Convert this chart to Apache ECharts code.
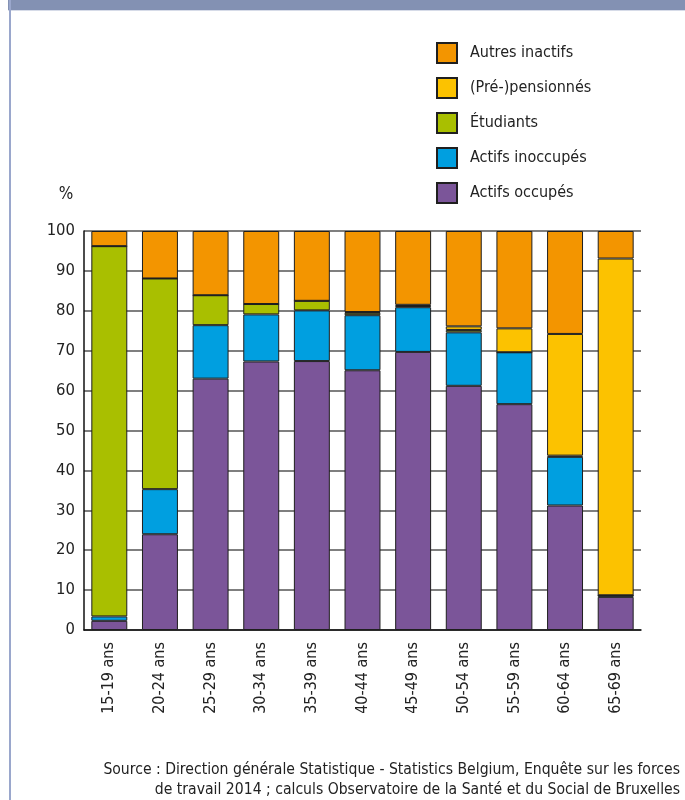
<!DOCTYPE html>
<html><head><meta charset="utf-8">
<script src="https://cdn.jsdelivr.net/npm/echarts@6/dist/echarts.min.js"></script>
<style>html,body{margin:0;padding:0;background:#fff}#c{width:685px;height:800px}</style>
</head><body><div id="c"></div>
<script>
const categories = ['15-19 ans','20-24 ans','25-29 ans','30-34 ans','35-39 ans','40-44 ans','45-49 ans','50-54 ans','55-59 ans','60-64 ans','65-69 ans'];
const actifsOccupes   = [2.3, 24.0, 63.0, 67.3, 67.4, 65.1, 69.7, 61.2, 56.6, 31.2, 8.3];
const actifsInoccupes = [1.1, 11.3, 13.4, 11.8, 12.7, 13.8, 11.2, 13.4, 13.0, 12.2, 0.4];
const etudiants       = [92.8, 52.8, 7.5, 2.6, 2.4, 0.6, 0.3, 0.6, 0, 0.3, 0];
const pensionnes      = [0, 0, 0, 0, 0, 0.2, 0.3, 0.9, 6.0, 30.5, 84.4];
const autresInactifs  = [3.8, 11.9, 16.1, 18.3, 17.5, 20.3, 18.5, 23.9, 24.4, 25.8, 6.9];
const yTicks = [0,10,20,30,40,50,60,70,80,90,100];
const sourceLines = ['Source : Direction générale Statistique - Statistics Belgium, Enquête sur les forces','de travail 2014 ; calculs Observatoire de la Santé et du Social de Bruxelles'];

const FONT = '"Liberation Sans Narrow","DejaVu Sans Condensed","Roboto Condensed","Noto Sans",sans-serif';
const chart = echarts.init(document.getElementById('c'), null, {renderer:'canvas'});
function s(name, data, color){
  return {name, type:'bar', stack:'t', data, barCategoryGap:'29%',
    itemStyle:{color, borderColor:'#1f1f1f', borderWidth:1}, emphasis:{disabled:true}};
}
chart.setOption({
  animation:false,
  textStyle:{fontFamily:FONT},
  grid:{left:84, right:44, top:231, bottom:170},
  legend:{orient:'vertical', left:436, top:42, itemWidth:20, itemHeight:20, itemGap:13,
    padding:0, icon:'rect', selectedMode:false,
    data:['Autres inactifs','(Pré-)pensionnés','Étudiants','Actifs inoccupés','Actifs occupés'],
    textStyle:{fontFamily:FONT, fontSize:16, color:'#222', padding:[0,0,0,8]}},
  xAxis:{type:'category', data:categories,
    axisLine:{lineStyle:{color:'#111', width:1.5}}, axisTick:{show:false},
    axisLabel:{rotate:90, margin:12, fontFamily:FONT, fontSize:16, color:'#222', interval:0}},
  yAxis:{type:'value', min:0, max:100, interval:10,
    axisLine:{show:true, lineStyle:{color:'#111', width:1.5}}, axisTick:{show:false},
    axisLabel:{margin:9, fontFamily:FONT, fontSize:16.5, color:'#222',
      formatter:v=>yTicks.includes(v)?String(v):''},
    splitLine:{lineStyle:{color:'#555', width:1.5}}},
  series:[
    s('Actifs occupés', actifsOccupes, '#7b5599'),
    s('Actifs inoccupés', actifsInoccupes, '#009fe0'),
    s('Étudiants', etudiants, '#a9bf00'),
    s('(Pré-)pensionnés', pensionnes, '#fcc200'),
    s('Autres inactifs', autresInactifs, '#f39500')
  ],
  graphic:[
    {type:'rect', shape:{x:8, y:0, width:677, height:10}, style:{fill:'#8391b3'}},
    {type:'rect', shape:{x:8, y:10, width:677, height:1}, style:{fill:'#d6dbe8'}},
    {type:'rect', shape:{x:9, y:0, width:2, height:800}, style:{fill:'#9aa7cc'}},
    {type:'text', x:66, y:195, style:{text:'%', font:'17px '+FONT, fill:'#222', textAlign:'center', textVerticalAlign:'middle'}},
    {type:'text', x:680, y:760, style:{text:sourceLines.join('\n'), font:'15.6px '+FONT, fill:'#222', textAlign:'right', lineHeight:20}}
  ]
});
</script></body></html>
